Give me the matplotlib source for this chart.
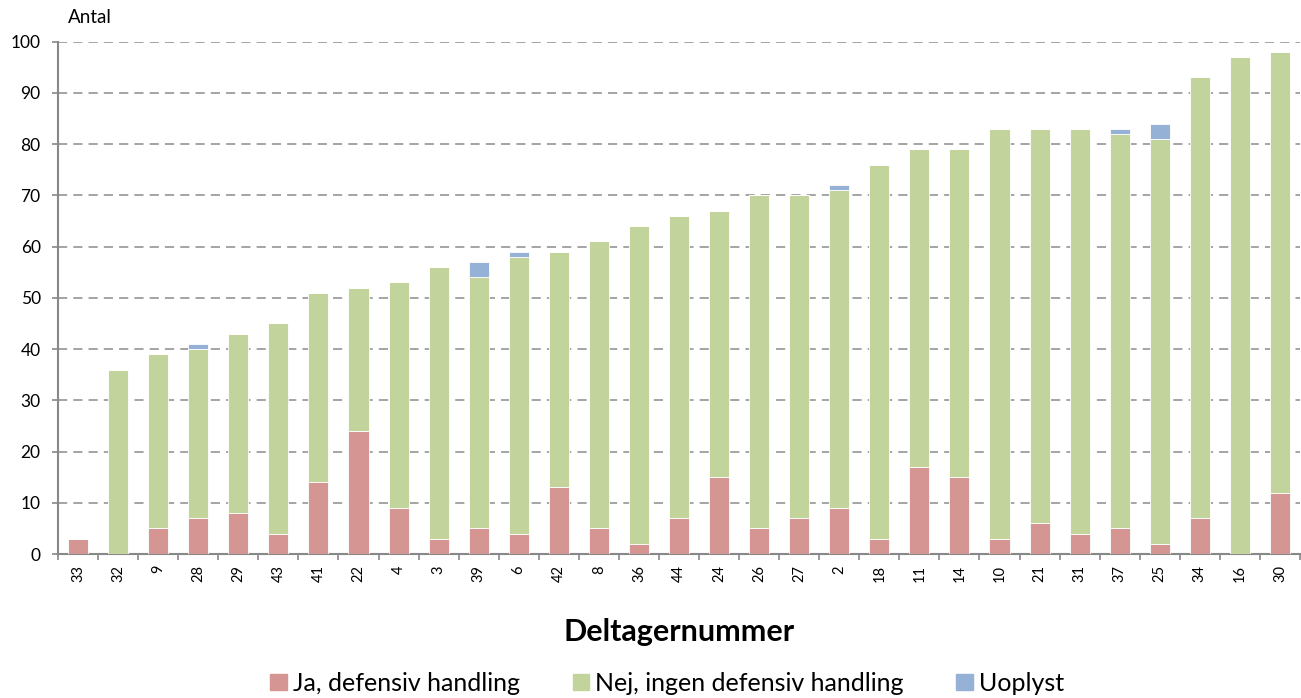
import numpy as np
import matplotlib.pyplot as plt
from matplotlib.patches import Patch

plt.rcParams['font.family'] = ['Lato', 'DejaVu Sans']

deltagere = ['33', '32', '9', '28', '29', '43', '41', '22', '4', '3', '39', '6', '42', '8', '36',
             '44', '24', '26', '27', '2', '18', '11', '14', '10', '21', '31', '37', '25', '34', '16', '30']
ja = [3, 0, 5, 7, 8, 4, 14, 24, 9, 3, 5, 4, 13, 5, 2,
      7, 15, 5, 7, 9, 3, 17, 15, 3, 6, 4, 5, 2, 7, 0, 12]
nej = [0, 36, 34, 33, 35, 41, 37, 28, 44, 53, 49, 54, 46, 56, 62,
       59, 52, 65, 63, 62, 73, 62, 64, 80, 77, 79, 77, 79, 86, 97, 86]
uoplyst = [0, 0, 0, 1, 0, 0, 0, 0, 0, 0, 3, 1, 0, 0, 0,
           0, 0, 0, 0, 1, 0, 0, 0, 0, 0, 0, 1, 3, 0, 0, 0]

c_ja = '#D49593'
c_nej = '#C2D49C'
c_uo = '#95B1D6'

fig = plt.figure(figsize=(13.01, 6.98), dpi=100)
ax = fig.add_axes([0.0446, 0.2063, 0.9546, 0.7342])

x = np.arange(len(deltagere))
ja_a = np.array(ja)
nej_a = np.array(nej)
uo_a = np.array(uoplyst)
w = 0.5
ax.bar(x, ja_a, w, color=c_ja, edgecolor='white', linewidth=0.6, zorder=3)
ax.bar(x, nej_a, w, bottom=ja_a, color=c_nej, edgecolor='white', linewidth=0.6, zorder=3)
ax.bar(x, uo_a, w, bottom=ja_a + nej_a, color=c_uo, edgecolor='white', linewidth=0.6, zorder=3)

ax.set_xlim(-0.5, len(deltagere) - 0.5)
ax.set_ylim(0, 100)
ax.set_yticks(range(0, 101, 10))
ax.yaxis.grid(True, color='#8C8C8C', linestyle=(0, (6, 4)), linewidth=1.1, zorder=0)
ax.set_xticks(x)
ax.set_xticklabels(deltagere, rotation=90, fontsize=10.5)
ax.set_xticks(np.arange(-0.5, len(deltagere)), minor=True)
ax.tick_params(axis='x', which='major', length=0, pad=8)
ax.tick_params(axis='x', which='minor', length=4, width=1.2, color='#888888')
ax.tick_params(axis='y', length=4.5, width=1.2, color='#888888', labelsize=12.5, pad=8)
for s in ['top', 'right']:
    ax.spines[s].set_visible(False)
for s in ['left', 'bottom']:
    ax.spines[s].set_color('#888888')
    ax.spines[s].set_linewidth(1.5)

fig.text(0.052, 0.967, 'Antal', fontsize=13.5, va='baseline')
fig.text(0.522, 0.0946, 'Deltagernummer', fontsize=22, fontweight='bold', ha='center', va='center')

handles = [Patch(color=c_ja), Patch(color=c_nej), Patch(color=c_uo)]
labels = ['Ja, defensiv handling', 'Nej, ingen defensiv handling', 'Uoplyst']
fig.legend(handles, labels, loc='center', bbox_to_anchor=(0.513, 0.021), ncol=3,
           frameon=False, fontsize=18, handlelength=0.66, handleheight=0.66,
           handletextpad=0.25, columnspacing=2.1, borderpad=0)

plt.savefig('out.png', dpi=100)
